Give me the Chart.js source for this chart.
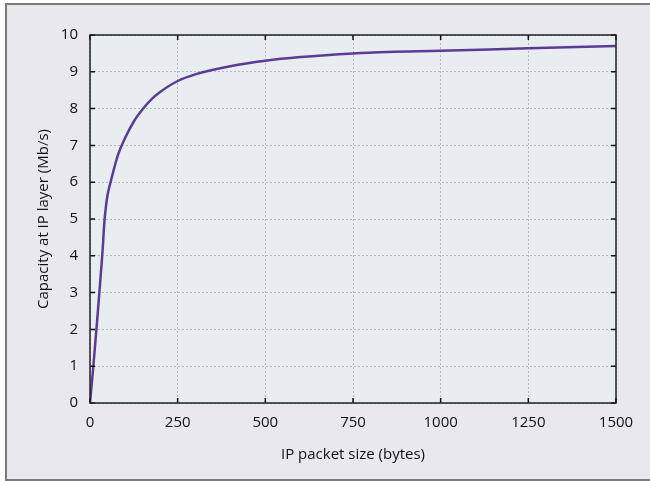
<!DOCTYPE html>
<html lang="en">
<head>
    <meta charset="UTF-8">
    <title>Capacity at IP layer vs IP packet size</title>
    <script src="https://cdn.jsdelivr.net/npm/chart.js"></script>
    <style>
        body { margin: 0; background: #ffffff; }
        #frame {
            position: absolute; left: 5px; top: 3px; width: 660px; height: 474px;
            border: 2px solid #7b7b7b; background: #e9e8ee;
        }
        #wrap { position: absolute; left: 0; top: 0; width: 650px; height: 481px; }
    </style>
</head>
<body>
    <div id="frame"></div>
    <div id="wrap"><canvas id="capChart" width="650" height="481"></canvas></div>

    <script>
        // packet size (bytes) and capacity (Mb/s)
        const packetSize = [0, 10, 20, 30, 37, 40, 45, 50, 60, 80, 100, 125, 150, 175, 200, 250, 300, 400, 500, 600, 750, 850, 1000, 1250, 1500];
        const capacity   = [0, 1.05, 2.2, 3.4, 4.3, 4.8, 5.3, 5.65, 6.05, 6.75, 7.2, 7.65, 7.98, 8.25, 8.45, 8.75, 8.93, 9.15, 9.3, 9.4, 9.5, 9.54, 9.57, 9.64, 9.7];

        const xTicks = [0, 250, 500, 750, 1000, 1250, 1500];
        const yTicks = [0, 1, 2, 3, 4, 5, 6, 7, 8, 9, 10];

        const fontFamily = '"Open Sans", "Noto Sans", sans-serif';

        // plot background + frame + inward ticks on all four sides
        const plotDeco = {
            id: 'plotDeco',
            beforeDraw(chart) {
                const { ctx, chartArea: a } = chart;
                ctx.save();
                ctx.fillStyle = '#e8edf0';
                ctx.fillRect(a.left, a.top, a.right - a.left, a.bottom - a.top);
                ctx.restore();
            },
            afterDatasetsDraw(chart) {
                const { ctx, chartArea: a, scales } = chart;
                ctx.save();
                ctx.strokeStyle = '#111';
                ctx.lineWidth = 1.5;
                const len = 5;
                ctx.beginPath();
                xTicks.forEach(v => {
                    const px = scales.x.getPixelForValue(v);
                    ctx.moveTo(px, a.bottom); ctx.lineTo(px, a.bottom - len);
                    ctx.moveTo(px, a.top); ctx.lineTo(px, a.top + len);
                });
                yTicks.forEach(v => {
                    const py = scales.y.getPixelForValue(v);
                    ctx.moveTo(a.left, py); ctx.lineTo(a.left + len, py);
                    ctx.moveTo(a.right, py); ctx.lineTo(a.right - len, py);
                });
                ctx.stroke();
                ctx.strokeStyle = '#222';
                ctx.lineWidth = 1.5;
                ctx.strokeRect(a.left, a.top, a.right - a.left, a.bottom - a.top);
                ctx.restore();
            }
        };

        new Chart(document.getElementById('capChart'), {
            type: 'line',
            data: {
                datasets: [{
                    data: packetSize.map((x, i) => ({ x: x, y: capacity[i] })),
                    borderColor: '#5c3b97',
                    borderWidth: 2.5,
                    pointRadius: 0,
                    fill: false,
                    cubicInterpolationMode: 'monotone'
                }]
            },
            options: {
                responsive: false,
                animation: false,
                layout: { padding: { left: 0, top: 35, right: 34, bottom: 0 } },
                plugins: { legend: { display: false }, tooltip: { enabled: false } },
                scales: {
                    x: {
                        type: 'linear',
                        min: 0, max: 1500,
                        afterBuildTicks: s => { s.ticks = xTicks.map(v => ({ value: v })); },
                        afterFit: s => { s.height = 78; },
                        border: { display: false, dash: [2, 2] },
                        grid: { color: '#b9b9b9', drawTicks: false, lineWidth: 1 },
                        ticks: {
                            color: '#111', padding: 11, font: { family: fontFamily, size: 15 },
                            callback: v => String(v)
                        },
                        title: {
                            display: true, text: 'IP packet size (bytes)', color: '#111',
                            font: { family: fontFamily, size: 15 }, padding: { top: 0, bottom: 17 }
                        }
                    },
                    y: {
                        min: 0, max: 10,
                        afterBuildTicks: s => { s.ticks = yTicks.map(v => ({ value: v })); },
                        afterFit: s => { s.width = 90; },
                        border: { display: false, dash: [2, 2] },
                        grid: { color: '#b9b9b9', drawTicks: false, lineWidth: 1 },
                        ticks: {
                            color: '#111', padding: 12, font: { family: fontFamily, size: 15 },
                            callback: v => String(v)
                        },
                        title: {
                            display: true, text: 'Capacity at IP layer (Mb/s)', color: '#111',
                            font: { family: fontFamily, size: 15 }, padding: { top: 35, bottom: 0 }
                        }
                    }
                }
            },
            plugins: [plotDeco]
        });
    </script>
</body>
</html>
